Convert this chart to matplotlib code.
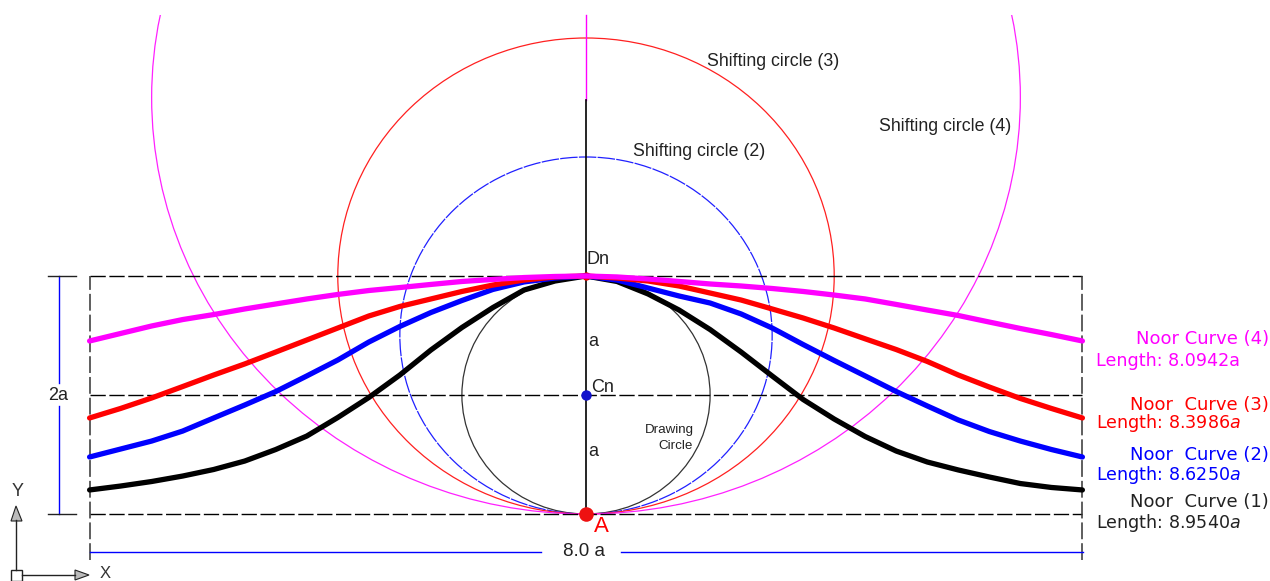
import matplotlib
matplotlib.use('Agg')
import matplotlib.pyplot as plt
from matplotlib.patches import Circle, Rectangle, Polygon

# everything is in units of a, A is the origin
x_grid = [-4.0, -3.75, -3.5, -3.25, -3.0, -2.75, -2.5, -2.25, -2.0, -1.75, -1.5, -1.25, -1.0, -0.75, -0.5, -0.25, 0,
          0.25, 0.5, 0.75, 1.0, 1.25, 1.5, 1.75, 2.0, 2.25, 2.5, 2.75, 3.0, 3.25, 3.5, 3.75, 4.0]
y_black = [0.202, 0.235, 0.273, 0.319, 0.374, 0.445, 0.542, 0.655, 0.811, 0.979, 1.168, 1.378, 1.567, 1.735, 1.882, 1.958, 2.0,
           1.954, 1.849, 1.714, 1.550, 1.361, 1.160, 0.962, 0.798, 0.651, 0.529, 0.437, 0.370, 0.311, 0.256, 0.223, 0.202]
y_blue = [0.479, 0.546, 0.613, 0.697, 0.807, 0.916, 1.029, 1.160, 1.294, 1.445, 1.576, 1.693, 1.794, 1.887, 1.950, 1.983, 2.0,
          1.966, 1.899, 1.832, 1.773, 1.681, 1.563, 1.424, 1.290, 1.160, 1.029, 0.908, 0.790, 0.693, 0.613, 0.542, 0.479]
y_red = [0.807, 0.887, 0.975, 1.071, 1.168, 1.261, 1.361, 1.462, 1.563, 1.664, 1.744, 1.807, 1.870, 1.924, 1.966, 1.992, 2.0,
         1.983, 1.958, 1.916, 1.857, 1.798, 1.723, 1.647, 1.563, 1.472, 1.382, 1.282, 1.168, 1.067, 0.971, 0.887, 0.807]
y_magenta = [1.454, 1.517, 1.580, 1.634, 1.676, 1.723, 1.765, 1.807, 1.845, 1.878, 1.903, 1.929, 1.954, 1.971, 1.987, 1.996, 2.0,
             1.992, 1.975, 1.954, 1.933, 1.916, 1.895, 1.870, 1.840, 1.807, 1.761, 1.714, 1.668, 1.613, 1.559, 1.508, 1.454]

radii = [1.0, 1.5, 2.0, 3.5]
circle_colors = ['#333333', '#2020ff', '#ff2020', '#ff20ff']
lengths = ['8.9540$a$', '8.6250$a$', '8.3986$a$', '8.0942a']
curve_names = ['Noor  Curve (1)', 'Noor  Curve (2)', 'Noor  Curve (3)', 'Noor Curve (4)']
curve_colors = ['black', 'blue', 'red', 'magenta']
label_colors = ['#222222', 'blue', 'red', 'magenta']

def X(px):
    return (px - 586) / 124.1

def Y(py):
    return (514 - py) / 119

plt.rcParams['font.family'] = ['Liberation Sans', 'DejaVu Sans']
fig = plt.figure(figsize=(12.7, 5.81), dpi=100)
ax = fig.add_axes([0, 0, 1, 1])
ax.set_xlim(X(0), X(1270))
ax.set_ylim(Y(581), Y(0))
ax.axis('off')

# dashed frame
dash = dict(color='black', lw=1.0, dashes=(11, 2.6))
for yy in [0, 1, 2]:
    ax.plot([-4, 4], [yy, yy], **dash)
for xx in [-4, 4]:
    ax.plot([xx, xx], [Y(560), 2], color='#333333', lw=1.1, dashes=(11, 2.6))

# dimension lines
ax.plot([X(90), X(541)], [Y(552), Y(552)], color='blue', lw=1)
ax.plot([X(621), X(1083)], [Y(552), Y(552)], color='blue', lw=1)
ax.plot([X(59), X(59)], [Y(383), 2], color='blue', lw=1)
ax.plot([X(59), X(59)], [0, Y(406)], color='blue', lw=1)
ax.plot([X(48), X(76)], [0, 0], color='#222222', lw=1)
ax.plot([X(48), X(76)], [2, 2], color='#222222', lw=1)
ax.text(X(58), Y(395), '2a', fontsize=13, ha='center', va='center', color='#222222')
ax.text(X(584), Y(552), '8.0 a', fontsize=13.5, ha='center', va='center', color='#222222')

# circles, all tangent at A
clip = Rectangle((-5, -1), 11, Y(15) + 1, transform=ax.transData)
for r, c in zip(radii, circle_colors):
    p = Circle((0, r), r, fill=False, edgecolor=c, lw=0.9)
    if c == '#2020ff':
        p.set_linestyle((0, (14, 1)))
    ax.add_patch(p)
    p.set_clip_path(clip)

# axis through A
ax.plot([0, 0], [Y(100), Y(15)], color='magenta', lw=1)
ax.plot([0, 0], [0, Y(100)], color='black', lw=1.2)

ax.plot(0, 2, 'o', color='red', ms=6, mew=0)
for ys, c in zip([y_black, y_blue, y_red, y_magenta], curve_colors):
    ax.plot(x_grid, ys, color=c, lw=3.8, solid_capstyle='round', solid_joinstyle='round')

ax.plot(0, 0, 'o', color='#ee1111', ms=10.5, mew=0)
ax.plot(0, 1, 'o', color='#1111cc', ms=7.5, mew=0)

# labels
ax.text(X(594), Y(527), 'A', color='red', fontsize=16, va='center')
ax.text(X(587), Y(260), 'Dn', fontsize=13, va='center', color='#222222')
ax.text(X(591), Y(387), 'Cn', fontsize=13, va='center', color='#222222')
ax.text(X(593), Y(341), 'a', fontsize=13, ha='center', va='center', color='#222222')
ax.text(X(593), Y(452), 'a', fontsize=13, ha='center', va='center', color='#222222')
ax.text(X(707), Y(62), 'Shifting circle (3)', fontsize=12.8, va='center', color='#222222')
ax.text(X(633), Y(152), 'Shifting circle (2)', fontsize=12.8, va='center', color='#222222')
ax.text(X(879), Y(127), 'Shifting circle (4)', fontsize=12.8, va='center', color='#222222')
ax.text(X(694), Y(430), 'Drawing', fontsize=9.6, ha='right', va='center', color='#222222')
ax.text(X(693), Y(446), 'Circle', fontsize=9.6, ha='right', va='center', color='#222222')

name_y = [502, 455, 405, 339]
length_y = [523, 475, 423, 361]
for n, ln, c, ny, ly in zip(curve_names, lengths, label_colors, name_y, length_y):
    ax.text(X(1269), Y(ny), n, color=c, fontsize=13, ha='right', va='center', family='DejaVu Sans')
    ax.text(X(1096), Y(ly), 'Length: ' + ln, color=c, fontsize=12.6, va='center', family='DejaVu Sans')

# UCS icon
ax.add_patch(Rectangle((X(11), Y(581)), X(22) - X(11), Y(570) - Y(581), fill=False, edgecolor='#222222', lw=1))
ax.plot([X(16), X(16)], [Y(570), Y(520)], color='#222222', lw=1)
ax.plot([X(22), X(75)], [Y(575), Y(575)], color='#222222', lw=1)
ax.add_patch(Polygon([(X(16), Y(506)), (X(11), Y(521)), (X(22), Y(521))], facecolor='#bbbbbb', edgecolor='#222222', lw=0.8))
ax.add_patch(Polygon([(X(89), Y(575)), (X(75), Y(570)), (X(75), Y(580))], facecolor='#bbbbbb', edgecolor='#222222', lw=0.8))
ax.text(X(18), Y(491), 'Y', fontsize=13, ha='center', va='center', color='#333333')
ax.text(X(105), Y(573.5), 'X', fontsize=12, ha='center', va='center', color='#333333')

fig.savefig('out.png', dpi=100)
